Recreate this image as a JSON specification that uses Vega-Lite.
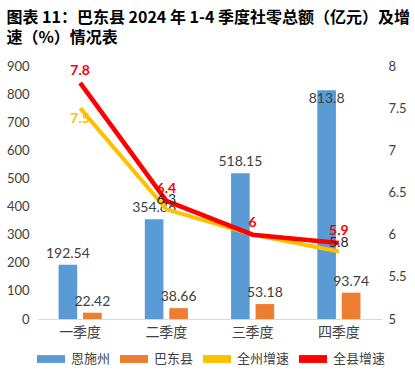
{
  "$schema": "https://vega.github.io/schema/vega-lite/v6.json",
  "autosize": {"type": "fit", "contains": "padding"},
  "width": 415,
  "height": 372,
  "padding": {"left": 6, "right": 8, "top": 10, "bottom": 6},
  "background": "white",
  "title": {
    "text": ["图表 11：巴东县 2024 年 1-4 季度社零总额（亿元）及增", "速（%）情况表"],
    "anchor": "start",
    "font": "Noto Sans CJK SC",
    "fontSize": 16,
    "fontWeight": "bold",
    "color": "#000000",
    "lineHeight": 20,
    "offset": 14
  },
  "config": {
    "view": {"stroke": null},
    "axis": {"labelFont": "Lato", "labelFontSize": 13, "labelColor": "#404040", "grid": false, "ticks": false, "domain": false, "title": null},
    "legend": {"orient": "bottom", "direction": "horizontal", "title": null, "labelFont": "Noto Sans CJK SC", "labelFontSize": 13, "labelColor": "#404040", "columnPadding": 9, "symbolType": "M-1,-0.28H1V0.28H-1Z", "symbolSize": 784, "labelOffset": 6, "offset": 6}
  },
  "datasets": {
    "bars": [
      {"q": "一季度", "s": "恩施州", "v": 192.54},
      {"q": "一季度", "s": "巴东县", "v": 22.42},
      {"q": "二季度", "s": "恩施州", "v": 354.86},
      {"q": "二季度", "s": "巴东县", "v": 38.66},
      {"q": "三季度", "s": "恩施州", "v": 518.15},
      {"q": "三季度", "s": "巴东县", "v": 53.18},
      {"q": "四季度", "s": "恩施州", "v": 813.8},
      {"q": "四季度", "s": "巴东县", "v": 93.74}
    ],
    "rates": [
      {"q": "一季度", "s": "全州增速", "r": 7.5},
      {"q": "二季度", "s": "全州增速", "r": 6.3},
      {"q": "三季度", "s": "全州增速", "r": 6},
      {"q": "四季度", "s": "全州增速", "r": 5.8},
      {"q": "一季度", "s": "全县增速", "r": 7.8},
      {"q": "二季度", "s": "全县增速", "r": 6.4},
      {"q": "三季度", "s": "全县增速", "r": 6},
      {"q": "四季度", "s": "全县增速", "r": 5.9}
    ]
  },
  "encoding": {
    "x": {
      "field": "q", "type": "nominal",
      "sort": ["一季度", "二季度", "三季度", "四季度"],
      "scale": {"paddingInner": 0.5, "paddingOuter": 0.25},
      "axis": {"labelAngle": 0, "domain": true, "domainColor": "#D9D9D9", "labelFont": "Noto Sans CJK SC", "labelFontSize": 14, "labelColor": "#404040", "labelPadding": 6}
    }
  },
  "layer": [
    {
      "data": {"name": "bars"},
      "encoding": {
        "xOffset": {"field": "s", "type": "nominal", "sort": ["恩施州", "巴东县"], "scale": {"paddingInner": 0.24}},
        "y": {"field": "v", "type": "quantitative", "scale": {"domain": [0, 900]}, "axis": {"values": [0, 100, 200, 300, 400, 500, 600, 700, 800, 900], "labelPadding": 8}}
      },
      "layer": [
        {
          "mark": {"type": "bar"},
          "encoding": {
            "color": {
              "field": "s", "type": "nominal",
              "scale": {"domain": ["恩施州", "巴东县", "全州增速", "全县增速"], "range": ["#5B9BD5", "#ED7D31", "#FFC000", "#FF0000"]},
              "legend": {"encode": {"symbols": {"update": {"fill": {"scale": "color", "field": "value"}, "stroke": {"value": "transparent"}, "strokeWidth": {"value": 0}}}}}
            }
          }
        },
        {
          "transform": [{"filter": "datum.v < 800"}],
          "mark": {"type": "text", "baseline": "bottom", "dy": -4, "font": "Lato", "fontSize": 14, "color": "#404040"},
          "encoding": {"text": {"field": "v", "type": "quantitative"}}
        },
        {
          "transform": [{"filter": "datum.v >= 800"}],
          "mark": {"type": "text", "baseline": "top", "dy": 2, "font": "Lato", "fontSize": 14, "color": "#404040"},
          "encoding": {"text": {"field": "v", "type": "quantitative"}}
        }
      ]
    },
    {
      "data": {"name": "rates"},
      "encoding": {
        "y": {"field": "r", "type": "quantitative", "scale": {"domain": [5, 8], "zero": false}, "axis": {"orient": "right", "values": [5, 5.5, 6, 6.5, 7, 7.5, 8], "format": "~g", "labelPadding": 6}}
      },
      "layer": [
        {
          "transform": [{"filter": "datum.s == '全州增速'"}],
          "mark": {"type": "line", "strokeWidth": 4},
          "encoding": {"color": {"field": "s", "type": "nominal"}}
        },
        {
          "transform": [{"filter": "datum.s == '全县增速'"}],
          "mark": {"type": "line", "strokeWidth": 4.5},
          "encoding": {"color": {"field": "s", "type": "nominal"}}
        },
        {
          "transform": [{"filter": "datum.s == '全州增速' && datum.q == '一季度'"}],
          "mark": {"type": "text", "baseline": "middle", "dy": 11, "font": "Lato", "fontSize": 14, "fontWeight": "bold", "color": "#FFC000"},
          "encoding": {"text": {"field": "r", "type": "quantitative"}}
        },
        {
          "transform": [{"filter": "datum.s == '全州增速' && (datum.q == '二季度' || datum.q == '四季度')"}],
          "mark": {"type": "text", "baseline": "middle", "dy": -9, "font": "Lato", "fontSize": 14, "color": "#262626"},
          "encoding": {"text": {"field": "r", "type": "quantitative"}}
        },
        {
          "transform": [{"filter": "datum.s == '全县增速'"}],
          "mark": {"type": "text", "baseline": "middle", "dy": -12, "font": "Lato", "fontSize": 14, "fontWeight": "bold", "color": "#FF0000"},
          "encoding": {"text": {"field": "r", "type": "quantitative"}}
        }
      ]
    }
  ],
  "resolve": {"scale": {"y": "independent"}}
}
